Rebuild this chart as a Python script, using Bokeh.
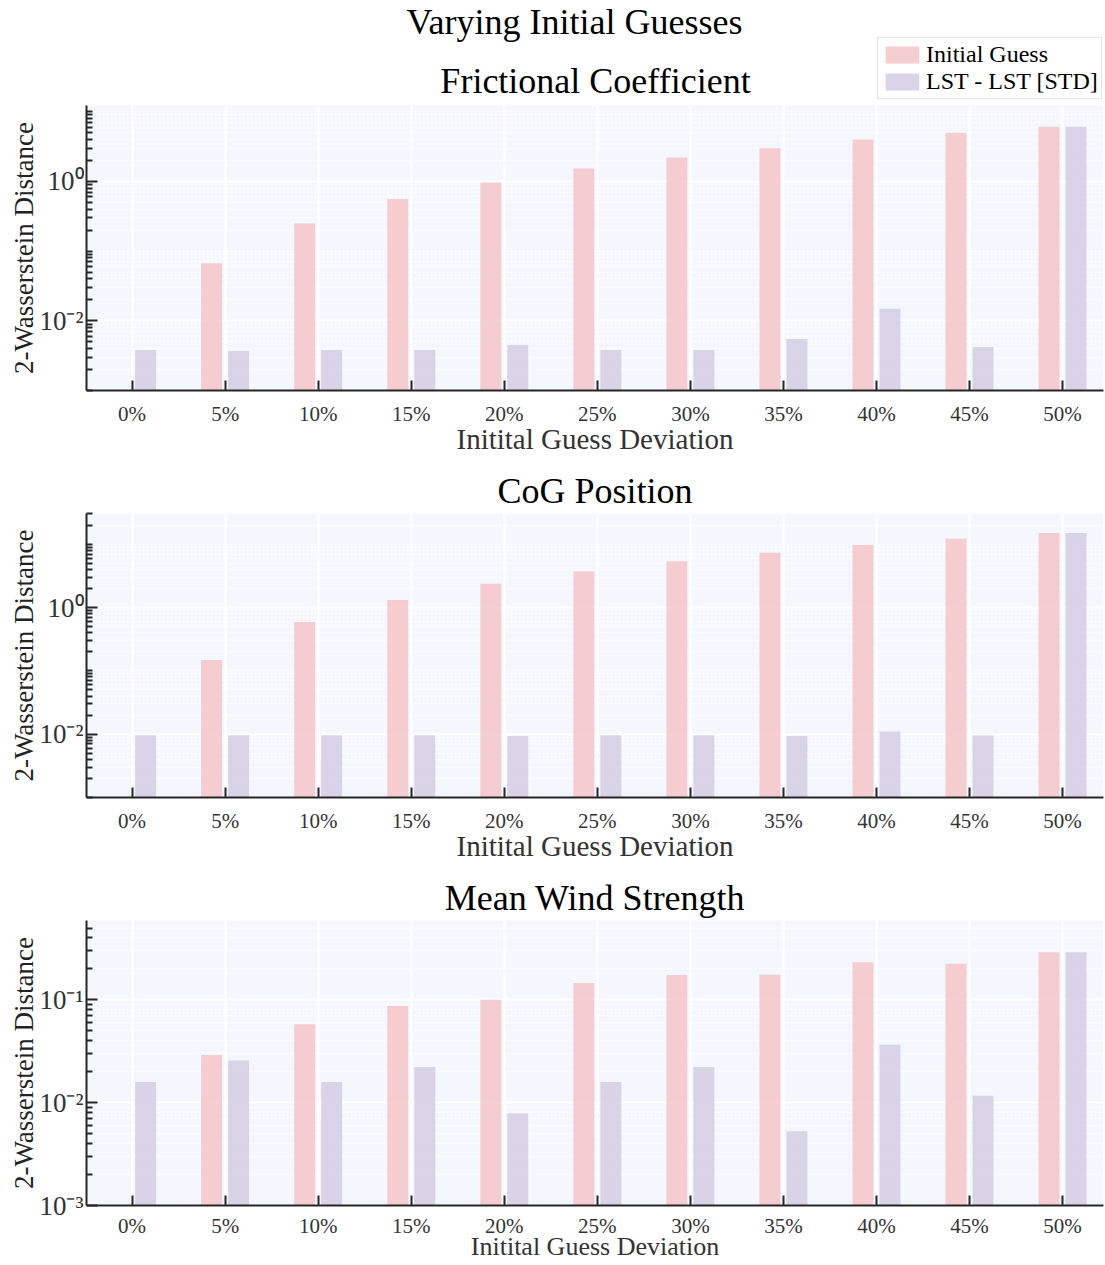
import numpy as np
from bokeh.plotting import figure
from bokeh.models import Range1d, FixedTicker, Legend, LegendItem, Label, ColumnDataSource
from bokeh.layouts import column
from bokeh.embed import file_html
from bokeh.resources import INLINE
from bokeh.transform import dodge

# ---------------- data ----------------
deviations = ["0%", "5%", "10%", "15%", "20%", "25%", "30%", "35%", "40%", "45%", "50%"]

friction_initial = [np.nan, 0.067, 0.25, 0.56, 0.97, 1.53, 2.2, 3.0, 4.0, 5.0, 6.1]
friction_lst = [0.0038, 0.0037, 0.0038, 0.0038, 0.0045, 0.0038, 0.0038, 0.0055, 0.0149, 0.0042, 6.1]

cog_initial = [np.nan, 0.149, 0.59, 1.32, 2.37, 3.7, 5.4, 7.3, 9.7, 12.2, 15.0]
cog_lst = [0.0096, 0.0096, 0.0096, 0.0096, 0.0094, 0.0096, 0.0096, 0.0094, 0.011, 0.0095, 15.0]

wind_initial = [np.nan, 0.0291, 0.058, 0.087, 0.1, 0.146, 0.175, 0.176, 0.232, 0.225, 0.291]
wind_lst = [0.0159, 0.0257, 0.0159, 0.0223, 0.0079, 0.0159, 0.0223, 0.00526, 0.0367, 0.0117, 0.291]

series_labels = ["Initial Guess", "LST - LST [STD]"]
main_title = "Varying Initial Guesses"
panel_titles = ["Frictional Coefficient", "CoG Position", "Mean Wind Strength"]
x_label = "Initital Guess Deviation"
y_label = "2-Wasserstein Distance"

# ---------------- style ----------------
FONT = "Liberation Serif"
BG = "#F4F7FE"
RED = "#F4C4C8"
BLUE = "#D3CCE4"
AX = "#262626"
W = 1105
HEADER_H = 105
LEFT = 86
RIGHT = 2


def minor_list(lo_exp, hi_exp, majors):
    out = []
    for e in range(lo_exp, hi_exp + 1):
        for k in range(1, 10):
            v = k * 10.0 ** e
            if not any(abs(v - m) / m < 1e-9 for m in majors):
                out.append(v)
    return out


def make_panel(title, initial, lst, y_start, y_end, majors, labels, height,
               b_top, b_bottom, xlab_size, xlab_standoff, tick_standoff):
    idx = list(range(len(deviations)))
    src = ColumnDataSource(dict(x=idx, initial=initial, lst=lst,
                                base=[y_start] * len(idx)))
    p = figure(width=W, height=height, y_axis_type="log",
               x_range=Range1d(-0.49, 10.44), y_range=Range1d(y_start, y_end),
               output_backend="svg", toolbar_location=None, title=title)
    p.min_border_left = LEFT
    p.min_border_right = RIGHT
    p.min_border_top = b_top
    p.min_border_bottom = b_bottom
    p.background_fill_color = BG
    p.border_fill_color = "white"
    p.outline_line_color = None

    if title is not None:
        p.title.align = "center"
        p.title.text_font = FONT
        p.title.text_font_size = "36px"
        p.title.text_font_style = "normal"
        p.title.text_color = "black"
        p.title.standoff = 6

    p.vbar(x=dodge("x", -0.145), width=0.225, bottom="base", top="initial",
           source=src, fill_color=RED, fill_alpha=0.85, line_color=None)
    p.vbar(x=dodge("x", 0.145), width=0.225, bottom="base", top="lst",
           source=src, fill_color=BLUE, fill_alpha=0.85, line_color=None)

    # x axis
    xt = FixedTicker(ticks=idx)
    p.xaxis.ticker = xt
    p.xgrid.ticker = xt
    p.xaxis.major_label_overrides = {i: d for i, d in zip(idx, deviations)}
    p.xaxis.axis_label = x_label
    p.xaxis.axis_label_text_font = FONT
    p.xaxis.axis_label_text_font_size = xlab_size
    p.xaxis.axis_label_text_font_style = "normal"
    p.xaxis.axis_label_text_color = "#333333"
    p.xaxis.axis_label_standoff = xlab_standoff
    p.xaxis.major_label_text_font = FONT
    p.xaxis.major_label_text_font_size = "21px"
    p.xaxis.major_label_text_color = "#333333"
    p.xaxis.major_label_standoff = tick_standoff
    p.xaxis.axis_line_color = AX
    p.xaxis.axis_line_width = 2
    p.xaxis.major_tick_in = 10
    p.xaxis.major_tick_out = 0
    p.xaxis.major_tick_line_width = 2
    p.xaxis.major_tick_line_color = AX
    p.xaxis.minor_tick_line_color = None
    p.xgrid.grid_line_color = "white"
    p.xgrid.grid_line_width = 2

    # y axis
    lo = int(np.floor(np.log10(y_start)))
    hi = int(np.ceil(np.log10(y_end)))
    yt = FixedTicker(ticks=majors, minor_ticks=minor_list(lo, hi, majors))
    p.yaxis.ticker = yt
    p.ygrid.ticker = yt
    p.yaxis.major_label_overrides = {m: l for m, l in zip(majors, labels)}
    p.yaxis.axis_label = y_label
    p.yaxis.axis_label_text_font = FONT
    p.yaxis.axis_label_text_font_size = "27px"
    p.yaxis.axis_label_text_font_style = "normal"
    p.yaxis.axis_label_text_color = "#222222"
    p.yaxis.axis_label_standoff = -3
    p.yaxis.major_label_text_font = FONT
    p.yaxis.major_label_text_font_size = "27px"
    p.yaxis.major_label_text_color = "#333333"
    p.yaxis.major_label_standoff = 3
    p.yaxis.axis_line_color = AX
    p.yaxis.axis_line_width = 2
    p.yaxis.major_tick_in = 11
    p.yaxis.major_tick_out = 0
    p.yaxis.major_tick_line_width = 2
    p.yaxis.major_tick_line_color = AX
    p.yaxis.minor_tick_in = 6
    p.yaxis.minor_tick_out = 0
    p.yaxis.minor_tick_line_width = 2
    p.yaxis.minor_tick_line_color = AX
    p.ygrid.grid_line_color = "white"
    p.ygrid.grid_line_width = 2
    p.ygrid.minor_grid_line_color = "white"
    p.ygrid.minor_grid_line_width = 1.5
    p.ygrid.minor_grid_line_dash = "2 2"
    return p


# ---------------- header: main title, first panel title, legend ----------------
# header data coordinates coincide with page pixels (x from page left, y up from header bottom)
hdr = figure(width=W, height=HEADER_H, x_range=Range1d(LEFT, W - RIGHT),
             y_range=Range1d(0, HEADER_H),
             x_axis_location=None, y_axis_location=None,
             output_backend="svg", toolbar_location=None)
hdr.min_border_left = LEFT
hdr.min_border_right = RIGHT
hdr.min_border_top = 0
hdr.min_border_bottom = 0
hdr.outline_line_color = None
hdr.background_fill_color = "white"
hdr.border_fill_color = "white"
hdr.grid.visible = False

hdr.add_layout(Label(x=574, y=84, text=main_title, text_align="center",
                     text_baseline="alphabetic", text_font=FONT, text_font_size="36px",
                     text_color="black"))
hdr.add_layout(Label(x=595, y=24.5, text=panel_titles[0], text_align="center",
                     text_baseline="alphabetic", text_font=FONT, text_font_size="36px",
                     text_color="black"))

proxy = ColumnDataSource(dict(x=[np.nan], top=[np.nan]))
g1 = hdr.vbar(x="x", top="top", width=1, source=proxy, fill_color=RED,
              fill_alpha=0.85, line_color=None)
g2 = hdr.vbar(x="x", top="top", width=1, source=proxy, fill_color=BLUE,
              fill_alpha=0.85, line_color=None)
legend = Legend(items=[LegendItem(label=series_labels[0], renderers=[g1]),
                       LegendItem(label=series_labels[1], renderers=[g2])],
                location=(877 - LEFT, 6))
legend.label_text_font = FONT
legend.label_text_font_size = "24px"
legend.label_text_color = "black"
legend.glyph_width = 42
legend.glyph_height = 21
legend.label_height = 21
legend.label_standoff = 3
legend.spacing = 0
legend.padding = 3
legend.margin = 0
legend.border_line_color = "#cccccc"
legend.border_line_width = 1.5
legend.background_fill_color = "white"
legend.background_fill_alpha = 1
hdr.add_layout(legend)

# ---------------- panels ----------------
p1 = make_panel(None, friction_initial, friction_lst,
                1e-3, 10 ** 1.09, [1e-2, 1e0], ["10⁻²", "10⁰"],
                360, 0, 75, "29px", -6, 11)
p2 = make_panel(panel_titles[1], cog_initial, cog_lst,
                1e-3, 10 ** 1.485, [1e-2, 1e0], ["10⁻²", "10⁰"],
                405, 48, 73, "29px", -6, 11)
p3 = make_panel(panel_titles[2], wind_initial, wind_lst,
                1e-3, 10 ** -0.228, [1e-3, 1e-2, 1e-1], ["10⁻³", "10⁻²", "10⁻¹"],
                395, 50, 60, "26px", -9, 8)

layout = column(hdr, p1, p2, p3, spacing=0)
open("out.html", "w").write(file_html(layout, INLINE))
